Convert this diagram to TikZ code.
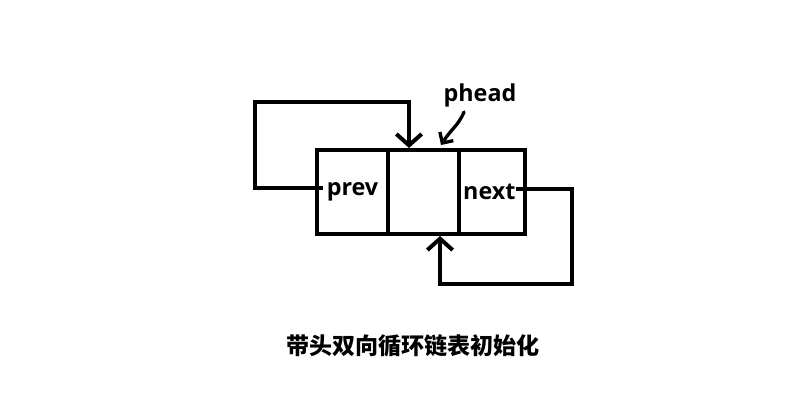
\documentclass[tikz,border=0pt]{standalone}
\usepackage{fontspec}
\setmainfont{Open Sans}
\newfontfamily\cjk{Noto Sans CJK SC}
\usetikzlibrary{arrows.meta}
\begin{document}
\begin{tikzpicture}[x=0.75pt,y=-0.75pt,
  cell/.style={draw,line width=3pt,minimum width=71*0.75pt,minimum height=84*0.75pt,inner sep=0pt,anchor=north west,font=\fontsize{17.5}{19}\selectfont\bfseries},
  link/.style={line width=3pt,-{Straight Barb[length=8.5pt,width=19pt,line width=3pt]}},
  lbl/.style={font=\fontsize{17.5}{19}\selectfont\bfseries,inner sep=0pt}]
\useasboundingbox (0,0) rectangle (805,401);
\node[cell,minimum width=71*0.75pt] (c1) at (315,148) {prev};
\node[cell,minimum width=71*0.75pt] (c2) at (386,148) {};
\node[cell,minimum width=66*0.75pt] (c3) at (457,148) {\hspace*{-4pt}next};
\coordinate (ps) at (323,188);
\coordinate (ns) at (516,189);
\coordinate (t1) at (409,102);
\coordinate (t2) at (440,284);
\draw[link] (ps) -- (255,188) -- (255,102) -- (t1) -- (t1 |- c2.north);
\draw[link] (ns) -- (572,189) -- (572,284) -- (t2) -- (t2 |- c2.south);
\node[lbl] (ph) at (480,95) {phead};
\draw[line width=2.5pt,line cap=round,-{Straight Barb[length=6pt,width=12pt,line width=2.5pt]}]
  (464,112) .. controls (458,126) and (452,128) .. (441,145);
\node[font=\cjk\bfseries\fontsize{17.3}{19}\selectfont,inner sep=0pt] (cap) at (413,346) {带头双向循环链表初始化};
\end{tikzpicture}
\end{document}
